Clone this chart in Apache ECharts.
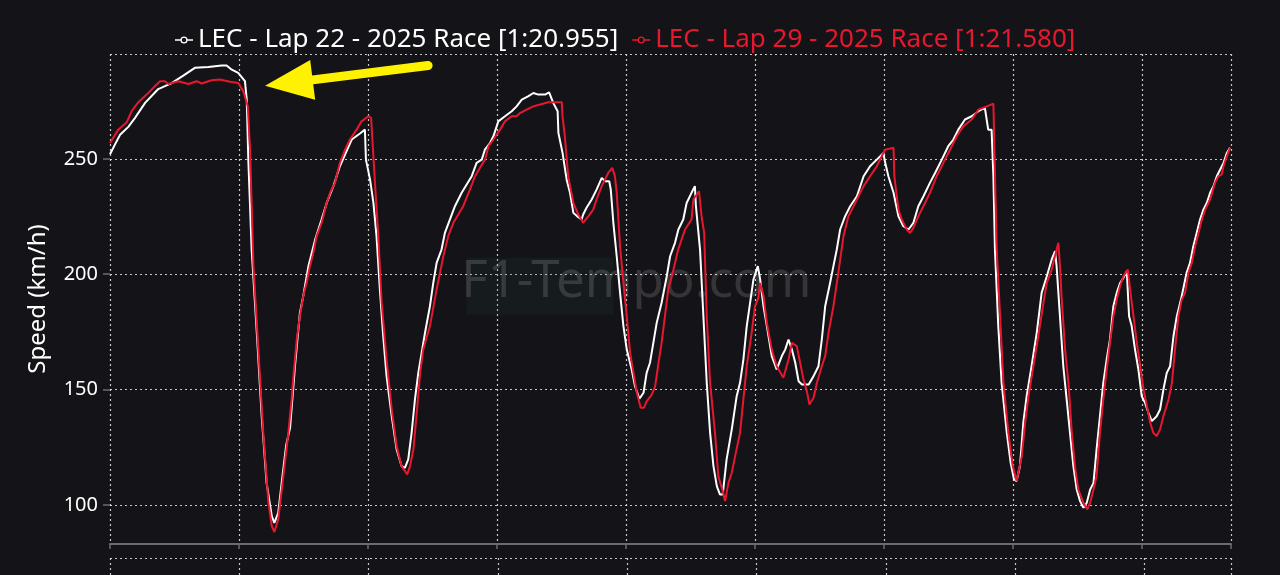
<!DOCTYPE html>
<html>
<head>
<meta charset="utf-8">
<script src="https://cdn.jsdelivr.net/npm/echarts@6/dist/echarts.min.js"></script>
<style>
html,body{margin:0;padding:0;background:#141418;}
#chart{width:1280px;height:575px;}
</style>
</head>
<body>
<div id="chart"></div>
<script>
// Legend / series names
const seriesNames = ['LEC - Lap 22 - 2025 Race [1:20.955]', 'LEC - Lap 29 - 2025 Race [1:21.580]'];
const yAxisName = 'Speed (km/h)';
const watermarkText = 'F1-Tempo.com';

// Lap 22 trace: [distance (m), speed (km/h)]
const lap22 = [
[0,252],[19,256.2],[39,260.5],[71,263.9],[97,267.8],[136,274.3],[187,280.3],[239,282.9],[284,286.1],[329,289.5],[381,289.9],[433,290.5],[452,290.5],[472,288.7],[497,287.3],[523,283.7],[530,275.7],[536,250],[549,210.7],[569,174.6],[588,138.4],[607,109.5],[627,95.1],[637,92.2],[652,96.5],[668,112],[683,126],[698,133.4],[717,160.1],[736,183.2],[749,190.5],[769,203.5],[795,215],[820,223.7],[840,230.9],[866,238.2],[891,246.8],[911,251.9],[937,258.4],[969,261],[988,262.7],[992,249.7],[1008,241],[1021,230.9],[1033,216.5],[1046,193.4],[1059,173.1],[1072,155.8],[1092,138.4],[1111,124],[1130,116.8],[1143,116],[1156,119.7],[1169,131.2],[1182,145.7],[1195,157.2],[1221,174.6],[1240,186.1],[1253,196.2],[1266,204.9],[1285,210.7],[1298,217.9],[1337,229.5],[1363,235.3],[1402,242.5],[1421,248.3],[1441,249.7],[1453,254],[1473,256.9],[1486,259.8],[1505,266.3],[1531,268.5],[1557,270.7],[1576,272.8],[1596,275.7],[1622,277.2],[1641,278.6],[1660,277.9],[1686,277.9],[1702,278.9],[1718,274.3],[1735,270.7],[1738,261.3],[1754,252.6],[1770,241],[1783,235.3],[1796,226.6],[1811,225.1],[1828,223.7],[1834,225.9],[1847,228.8],[1867,232.4],[1886,236.7],[1906,241.8],[1919,240.3],[1935,240.3],[1941,236.7],[1951,222.3],[1964,207.8],[1977,191.9],[1990,177.5],[2003,167.3],[2022,158.7],[2035,151.4],[2052,146],[2068,148.6],[2080,157.2],[2093,161.6],[2106,170.2],[2119,178.9],[2138,187.6],[2158,199.1],[2171,207.8],[2190,213.6],[2203,219.4],[2222,223.7],[2235,230.9],[2254,235.3],[2267,238.2],[2271,229.5],[2287,210.7],[2300,181.8],[2313,152.9],[2326,131.2],[2339,116.8],[2352,108.1],[2364,104.5],[2375,104.5],[2390,119.7],[2410,132.7],[2429,147.1],[2442,152.9],[2455,163],[2468,177.5],[2481,187.6],[2494,197.7],[2511,203.5],[2520,197.7],[2533,186.1],[2546,177.5],[2565,164.5],[2584,158.7],[2604,164.5],[2617,167.3],[2630,171.7],[2643,167.3],[2656,161.6],[2669,153.6],[2682,152.2],[2708,152.2],[2727,155.8],[2746,160.1],[2759,171.7],[2772,186.1],[2791,196.2],[2804,203.5],[2817,210.7],[2830,219.4],[2849,225.1],[2869,229.5],[2895,233.8],[2921,242.5],[2946,246.8],[2972,249.7],[2998,252.6],[3002,249.7],[3017,242.5],[3037,235.3],[3056,225.1],[3075,220.8],[3095,219.4],[3114,222.3],[3133,229.5],[3153,233.8],[3178,239.6],[3198,243.9],[3224,249.7],[3249,255.5],[3269,258.4],[3288,262.7],[3314,267.1],[3340,268.5],[3366,270.7],[3391,272.1],[3404,262.7],[3417,262.7],[3424,242.5],[3430,210.7],[3443,177.5],[3456,152.9],[3476,131.2],[3491,118.2],[3504,111],[3514,110.3],[3527,116.8],[3540,135.6],[3553,147.1],[3572,160.1],[3592,174.6],[3611,191.9],[3631,199.1],[3650,206.4],[3663,210],[3669,203.5],[3682,181.8],[3695,160.1],[3708,145.7],[3721,131.2],[3734,116.8],[3747,106.6],[3760,101.6],[3773,98.7],[3786,100.9],[3799,106.6],[3812,109.5],[3824,124],[3837,138.4],[3850,152.9],[3863,163],[3876,171.7],[3889,186.1],[3902,191.9],[3915,196.2],[3928,198.4],[3941,201.3],[3950,181.8],[3960,177.5],[3973,167.3],[3986,158.7],[3999,147.1],[4012,144.2],[4025,139.9],[4038,136.3],[4057,138.4],[4070,141.3],[4083,150],[4096,157.2],[4109,160.1],[4122,173.1],[4135,181.8],[4154,190.5],[4173,200.6],[4186,204.9],[4199,212.1],[4212,217.9],[4225,223.7],[4238,228],[4251,230.9],[4264,235.3],[4277,238.2],[4290,242.5],[4303,245.4],[4316,248.3],[4329,252.6],[4341,254.8]
];

// Lap 29 trace: [distance (m), speed (km/h)]
const lap29 = [
[0,256.9],[32,262.7],[65,265.9],[84,270.7],[110,274.6],[142,277.9],[174,281.5],[194,283.7],[213,283.7],[226,282.5],[265,283.7],[304,282.5],[336,283.7],[355,282.7],[394,284.1],[426,284.4],[465,283.5],[497,282.9],[517,279.3],[534,272.8],[543,254],[556,203.5],[575,167.3],[594,131.2],[614,100.9],[627,90.8],[637,88.2],[652,93.6],[665,106],[678,118.2],[691,131],[704,145.7],[711,155.8],[724,171.7],[736,181.8],[749,190.5],[762,196.2],[775,203.5],[788,209.2],[801,216.5],[820,222.3],[827,225.1],[840,230.9],[853,235.3],[872,239.6],[891,248.3],[911,254],[930,258.4],[956,262.7],[975,266.3],[1001,268.5],[1012,267.8],[1027,239.6],[1040,216.5],[1053,187.6],[1072,163],[1092,141.3],[1111,125.4],[1130,116.8],[1152,113.2],[1163,116.8],[1176,124],[1189,139.9],[1202,157.2],[1214,167.3],[1240,177.5],[1266,193.4],[1292,207.8],[1311,216.5],[1331,222.3],[1369,229.5],[1395,236.7],[1415,242.5],[1441,247.5],[1454,249.7],[1467,255.5],[1486,258.4],[1512,262.7],[1531,266.3],[1557,268.5],[1576,268.5],[1589,269.9],[1615,271.4],[1641,272.8],[1667,273.6],[1699,274.6],[1751,274.6],[1754,268.5],[1763,259.8],[1776,242.5],[1796,230.9],[1815,225.9],[1834,222.3],[1854,225.1],[1873,228],[1886,232.4],[1906,238.2],[1931,243.9],[1947,246.1],[1957,242.5],[1964,235.3],[1977,212.1],[1990,196.2],[2003,181.8],[2016,165.9],[2029,157.2],[2042,148.6],[2057,142.1],[2070,142.1],[2080,144.9],[2100,147.8],[2113,151.4],[2126,161.6],[2138,170.2],[2151,181.8],[2164,193.4],[2184,202],[2203,211],[2229,219.4],[2254,223.7],[2261,232.4],[2283,236],[2293,225.1],[2303,217.9],[2313,181.8],[2326,152.9],[2345,131.2],[2358,112.4],[2375,105.9],[2384,101.6],[2397,109.5],[2410,113.9],[2423,121.1],[2442,131.2],[2455,145.7],[2468,160.1],[2487,174.6],[2500,186.1],[2513,189.7],[2520,196.2],[2533,190.5],[2546,178.9],[2565,167.3],[2584,160.1],[2610,155.1],[2630,163],[2643,170.2],[2662,168.8],[2675,161.6],[2688,154.3],[2701,149.3],[2711,143.5],[2727,146.4],[2740,152.9],[2759,160.1],[2772,164.5],[2785,174.6],[2804,186.1],[2823,200.6],[2843,216.5],[2862,225.1],[2882,229.5],[2901,233.8],[2921,238.2],[2946,242.5],[2972,246.8],[3004,254],[3037,254.8],[3040,242.5],[3056,228],[3069,223.7],[3088,219.4],[3101,217.9],[3114,220.1],[3133,225.1],[3159,230.9],[3178,235.3],[3204,242.5],[3230,248.3],[3256,254],[3282,259.8],[3308,264.2],[3340,267.1],[3366,271.4],[3398,272.8],[3424,274],[3428,254],[3437,210.7],[3450,181.8],[3463,152.9],[3482,131.2],[3499,116.8],[3514,110.3],[3534,121.1],[3547,135.6],[3560,147.1],[3579,160.1],[3598,173.1],[3618,187.6],[3631,196.2],[3650,202],[3669,210.7],[3676,213.6],[3682,203.5],[3689,189],[3702,167.3],[3715,152.9],[3728,131.2],[3740,116.8],[3753,106.6],[3773,100.9],[3788,98],[3799,100.9],[3812,106.6],[3824,112.4],[3837,131.2],[3850,145.7],[3863,158.7],[3876,170.2],[3889,181.8],[3902,189],[3915,194.8],[3928,199.1],[3945,202],[3954,193.4],[3967,181.8],[3980,170.2],[3993,160.1],[4006,150],[4019,142.8],[4032,135.6],[4044,131.2],[4057,129.8],[4070,132.7],[4083,138.4],[4103,145.7],[4116,152.9],[4128,167.3],[4141,181.8],[4154,189],[4167,191.9],[4180,200.6],[4193,204.9],[4206,212.1],[4219,217.9],[4232,223.7],[4245,228],[4264,232.4],[4283,239.6],[4296,242.5],[4309,243.2],[4316,246.8],[4329,251.2],[4341,254.8]
];

// Axis ranges
const xRange = [0, 4345];
const xStep = 500;
const yRange = [83, 295.5];
// Annotation arrow (data coordinates): tail and tip
const arrowTail = [1233, 290.5];
const arrowTip = [601, 281.7];
// Watermark anchor (data coordinates)
const watermarkAt = [2040, 196.3];

const FONT = '"Noto Sans", "Open Sans", sans-serif';
const BG = '#141418';
const WHITE = '#ffffff';
const RED = '#e8172f';
const GRIDC = 'rgba(230,230,230,0.85)';
const dotted = { color: GRIDC, width: 1.2, type: [2, 3] };
// legend icon: short line with a hollow circle in the middle
const LEGEND_ICON = 'path://M0 4.25H6.1V5.75H0Z M13.9 4.25H20V5.75H13.9Z M10 1A4 4 0 1 1 10 9A4 4 0 1 1 10 1Z M10 2.5A2.5 2.5 0 1 0 10 7.5A2.5 2.5 0 1 0 10 2.5Z';

const chart = echarts.init(document.getElementById('chart'), null, { renderer: 'canvas' });

const option = {
  backgroundColor: BG,
  animation: false,
  textStyle: { fontFamily: FONT },
  legend: {
    top: 22, left: 170, itemGap: 14, itemWidth: 18, itemHeight: 8,
    textStyle: { fontSize: 26, fontFamily: FONT },
    data: [
      { name: seriesNames[0], icon: LEGEND_ICON, textStyle: { color: WHITE } },
      { name: seriesNames[1], icon: LEGEND_ICON, textStyle: { color: RED } }
    ]
  },
  grid: [
    { left: 110, right: 49, top: 54, bottom: 31 },
    { left: 110, right: 49, top: 558, height: 300 }
  ],
  xAxis: [
    {
      type: 'value', gridIndex: 0, min: xRange[0], max: xRange[1], interval: xStep,
      axisLine: { show: true, lineStyle: { color: '#6c6c70', width: 2 } },
      axisTick: { show: true, length: 5, lineStyle: { color: '#6c6c70', width: 1.5 } },
      axisLabel: { show: false },
      splitLine: { show: true, lineStyle: dotted }
    },
    {
      type: 'value', gridIndex: 1, min: 0, max: 4335, interval: xStep, position: 'top',
      axisLine: { show: true, lineStyle: dotted }, axisTick: { show: false }, axisLabel: { show: false },
      splitLine: { show: true, lineStyle: dotted }
    }
  ],
  yAxis: [
    {
      type: 'value', gridIndex: 0, min: yRange[0], max: yRange[1], splitNumber: 5,
      name: yAxisName, nameLocation: 'middle', nameGap: 60,
      nameTextStyle: { color: WHITE, fontSize: 24, fontFamily: FONT },
      axisLine: { show: false },
      axisTick: { show: true, length: 7, lineStyle: { color: '#6c6c70', width: 1.5 } },
      axisLabel: { color: WHITE, fontSize: 20, margin: 12, fontFamily: FONT, showMinLabel: false, showMaxLabel: false },
      splitLine: { show: true, lineStyle: dotted }
    },
    {
      type: 'value', gridIndex: 1, min: 0, max: 100, interval: 100,
      axisLine: { show: false }, axisTick: { show: false }, axisLabel: { show: false },
      splitLine: { show: true, lineStyle: dotted }
    }
  ],
  series: [
    {
      name: seriesNames[0], type: 'line', xAxisIndex: 0, yAxisIndex: 0,
      data: lap22, showSymbol: false, symbol: 'emptyCircle', symbolSize: 6,
      lineStyle: { color: WHITE, width: 2 }, itemStyle: { color: WHITE }
    },
    {
      name: seriesNames[1], type: 'line', xAxisIndex: 0, yAxisIndex: 0,
      data: lap29, showSymbol: false, symbol: 'emptyCircle', symbolSize: 6,
      lineStyle: { color: RED, width: 2 }, itemStyle: { color: RED }
    }
  ]
};
chart.setOption(option);

// Overlay: watermark + arrow annotation positioned through the chart's scales
const tail = chart.convertToPixel({ gridIndex: 0 }, arrowTail);
const tip = chart.convertToPixel({ gridIndex: 0 }, arrowTip);
const dx = tip[0] - tail[0], dy = tip[1] - tail[1];
const len = Math.sqrt(dx * dx + dy * dy);
const ux = dx / len, uy = dy / len;
const headLen = 48, headHalf = 20;
const bx = tip[0] - ux * headLen, by = tip[1] - uy * headLen;
const nx = -uy, ny = ux;
const ctr = chart.convertToPixel({ gridIndex: 0 }, watermarkAt);

chart.setOption({
  graphic: [
    {
      type: 'rect', z: 0, silent: true,
      shape: { x: ctr[0] - 170, y: ctr[1] - 25, width: 147, height: 57 },
      style: { fill: 'rgba(40,70,60,0.16)' }
    },
    {
      type: 'text', z: 0, silent: true,
      x: ctr[0], y: ctr[1],
      style: { text: watermarkText, fill: 'rgba(255,255,255,0.14)', font: '51px ' + FONT, align: 'center', verticalAlign: 'middle' }
    },
    {
      type: 'line', z: 100, silent: true,
      shape: { x1: tail[0], y1: tail[1], x2: bx + ux * 4, y2: by + uy * 4 },
      style: { stroke: '#fff200', lineWidth: 9, lineCap: 'round' }
    },
    {
      type: 'polygon', z: 100, silent: true,
      shape: { points: [[tip[0], tip[1]], [bx + nx * headHalf, by + ny * headHalf], [bx - nx * headHalf, by - ny * headHalf]] },
      style: { fill: '#fff200' }
    }
  ]
});
</script>
</body>
</html>
